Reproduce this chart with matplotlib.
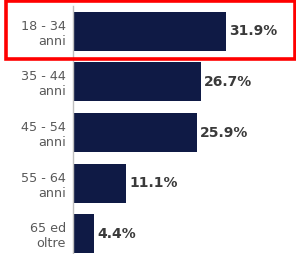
import matplotlib.pyplot as plt
from matplotlib.patches import Rectangle

categories = ["18 - 34\nanni", "35 - 44\nanni", "45 - 54\nanni", "55 - 64\nanni", "65 ed\noltre"]
values = [31.9, 26.7, 25.9, 11.1, 4.4]
value_labels = ["31.9%", "26.7%", "25.9%", "11.1%", "4.4%"]

W, H = 296, 254
fig = plt.figure(figsize=(W / 100, H / 100), dpi=100)
fig.patch.set_facecolor("white")

# axes placed in pixel coordinates
left, right, top, bottom = 73, 296, 6, 254
ax = fig.add_axes([left / W, 1 - bottom / H, (right - left) / W, (bottom - top) / H])

pos = list(range(len(values)))
ax.barh(pos, values, height=0.77, color="#0f1a45")
ax.set_xlim(0, (right - left) / 4.8)
ax.set_ylim(4.4, -0.5)

for y, v, lab in zip(pos, values, value_labels):
    ax.text(v + 0.6, y, lab, va="center", ha="left", fontsize=10,
            fontweight="bold", color="#3a3a3a")

ax.set_yticks(pos)
ax.set_yticklabels(categories, fontsize=9.2, color="#595959", linespacing=1.2)
ax.tick_params(axis="y", length=0, pad=5)
ax.set_xticks([])
for s in ["top", "right", "bottom"]:
    ax.spines[s].set_visible(False)
ax.spines["left"].set_color("#bfbfbf")
ax.spines["left"].set_linewidth(1)

# red highlight box around the first row
fig.patches.append(Rectangle((5.5 / W, 1 - 58.5 / H), 289.5 / W, 57.5 / H,
                             transform=fig.transFigure, fill=False,
                             edgecolor="#ff0000", linewidth=2.6))

fig.savefig("out.png", dpi=100)
